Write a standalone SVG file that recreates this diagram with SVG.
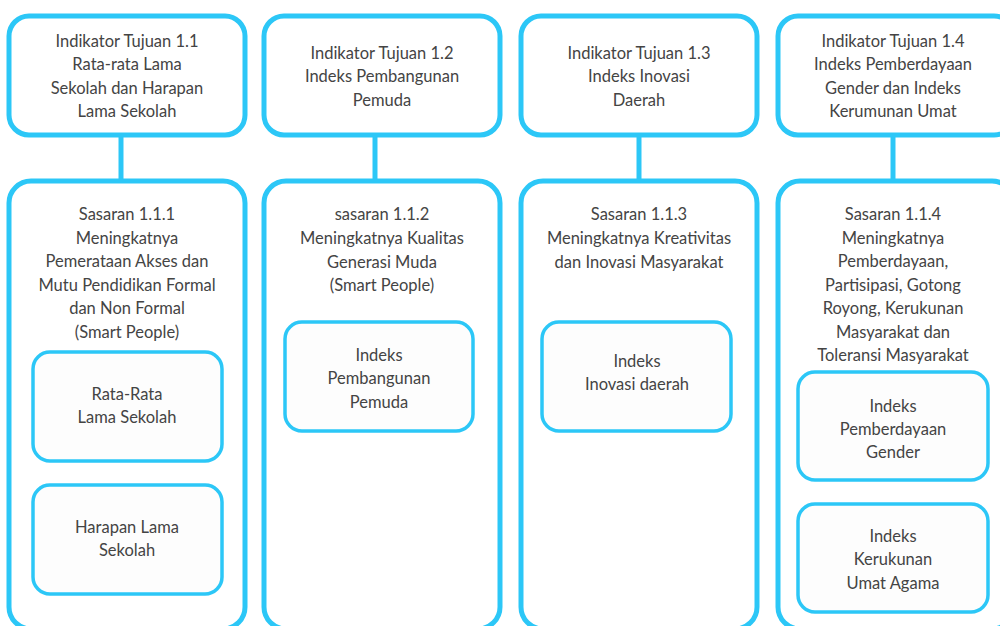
<svg xmlns="http://www.w3.org/2000/svg" width="1000" height="626" viewBox="0 0 1000 626">
<style>
.box{fill:#fff;stroke:#2CC7F7;stroke-width:5}
.inner{fill:#fdfdfd;stroke:#2CC7F7;stroke-width:3.5}
.conn{stroke:#2CC7F7;stroke-width:5;fill:none}
text{font-family:Lato,"Liberation Sans",sans-serif;font-size:16.5px;fill:#444;text-anchor:middle}
</style>
<rect width="1000" height="626" fill="#fff"/>
<g id="connectors">
<line class="conn" x1="121" y1="136" x2="121" y2="181"/>
<line class="conn" x1="375" y1="136" x2="375" y2="181"/>
<line class="conn" x1="639" y1="136" x2="639" y2="181"/>
<line class="conn" x1="893" y1="136" x2="893" y2="181"/>
</g>
<g id="ind11"><rect class="box" x="9" y="16" width="236" height="119" rx="20"/>
<text x="127" y="47">Indikator Tujuan 1.1</text><text x="127" y="70">Rata-rata Lama</text><text x="127" y="94">Sekolah dan Harapan</text><text x="127" y="117">Lama Sekolah</text></g>
<g id="ind12"><rect class="box" x="264" y="16" width="236" height="119" rx="20"/>
<text x="382" y="59">Indikator Tujuan 1.2</text><text x="382" y="82">Indeks Pembangunan</text><text x="382" y="106">Pemuda</text></g>
<g id="ind13"><rect class="box" x="521" y="16" width="236" height="119" rx="20"/>
<text x="639" y="59">Indikator Tujuan 1.3</text><text x="639" y="82">Indeks Inovasi</text><text x="639" y="106">Daerah</text></g>
<g id="ind14"><rect class="box" x="778" y="16" width="236" height="119" rx="20"/>
<text x="893" y="47">Indikator Tujuan 1.4</text><text x="893" y="70">Indeks Pemberdayaan</text><text x="893" y="94">Gender dan Indeks</text><text x="893" y="117">Kerumunan Umat</text></g>
<g id="sas111"><rect class="box" x="9" y="181" width="236" height="448" rx="22"/>
<text x="127" y="220">Sasaran 1.1.1</text><text x="127" y="244">Meningkatnya</text><text x="127" y="267">Pemerataan Akses dan</text><text x="127" y="291">Mutu Pendidikan Formal</text><text x="127" y="314">dan Non Formal</text><text x="127" y="338">(Smart People)</text></g>
<g id="sas112"><rect class="box" x="264" y="181" width="236" height="448" rx="22"/>
<text x="382" y="220">sasaran 1.1.2</text><text x="382" y="244">Meningkatnya Kualitas</text><text x="382" y="268">Generasi Muda</text><text x="382" y="291">(Smart People)</text></g>
<g id="sas113"><rect class="box" x="521" y="181" width="236" height="448" rx="22"/>
<text x="639" y="220">Sasaran 1.1.3</text><text x="639" y="244">Meningkatnya Kreativitas</text><text x="639" y="268">dan Inovasi Masyarakat</text></g>
<g id="sas114"><rect class="box" x="778" y="181" width="236" height="448" rx="22"/>
<text x="893" y="220">Sasaran 1.1.4</text><text x="893" y="244">Meningkatnya</text><text x="893" y="267">Pemberdayaan,</text><text x="893" y="291">Partisipasi, Gotong</text><text x="893" y="314">Royong, Kerukunan</text><text x="893" y="338">Masyarakat dan</text><text x="893" y="361">Toleransi Masyarakat</text></g>
<g id="rls"><rect class="inner" x="33" y="352" width="189" height="109" rx="17"/>
<text x="127" y="400">Rata-Rata</text><text x="127" y="423">Lama Sekolah</text></g>
<g id="hls"><rect class="inner" x="33" y="485" width="189" height="109" rx="17"/>
<text x="127" y="533">Harapan Lama</text><text x="127" y="556">Sekolah</text></g>
<g id="ipp"><rect class="inner" x="285" y="322" width="188" height="109" rx="17"/>
<text x="379" y="361">Indeks</text><text x="379" y="384">Pembangunan</text><text x="379" y="408">Pemuda</text></g>
<g id="iid"><rect class="inner" x="542" y="322" width="189" height="109" rx="17"/>
<text x="637" y="367">Indeks</text><text x="637" y="390">Inovasi daerah</text></g>
<g id="ipg"><rect class="inner" x="798" y="372" width="190" height="108" rx="17"/>
<text x="893" y="412">Indeks</text><text x="893" y="435">Pemberdayaan</text><text x="893" y="458">Gender</text></g>
<g id="ikua"><rect class="inner" x="798" y="504" width="190" height="108" rx="17"/>
<text x="893" y="542">Indeks</text><text x="893" y="565">Kerukunan</text><text x="893" y="589">Umat Agama</text></g>
</svg>
